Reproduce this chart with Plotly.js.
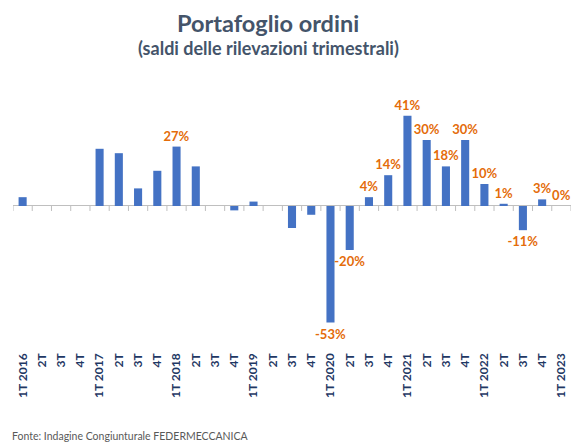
<!DOCTYPE html>
<html>
<head>
<meta charset="utf-8">
<script src="https://cdn.plot.ly/plotly-3.0.1.min.js"></script>
<style>html,body{margin:0;padding:0;background:#fff;}#chart{width:571px;height:442px;}</style>
</head>
<body>
<div id="chart"></div>
<script>
const categories = ["1T 2016","2T","3T","4T","1T 2017","2T","3T","4T","1T 2018","2T","3T","4T","1T 2019","2T","3T","4T","1T 2020","2T","3T","4T","1T 2021","2T","3T","4T","1T 2022","2T","3T","4T","1T 2023"];
const values = [4,0,0,0,26,24,8,16,27,18,0,-2,2,0,-10,-4,-53,-20,4,14,41,30,18,30,10,1,-11,3,0];
const labels = ["","","","","","","","","27%","","","","","","","","-53%","-20%","4%","14%","41%","30%","18%","30%","10%","1%","-11%","3%","0%"];
const titleText = "Portafoglio ordini";
const subtitleText = "(saldi delle rilevazioni trimestrali)";
const sourceText = "Fonte: Indagine Congiunturale FEDERMECCANICA";

const xIdx = categories.map((c, i) => i);
const yMin = -63.2, yMax = 50;
const FONT = 'Lato, "Open Sans", sans-serif';

const trace = {
  type: 'bar',
  x: xIdx,
  y: values,
  text: labels,
  textposition: 'outside',
  constraintext: 'none',
  cliponaxis: false,
  textfont: {family: FONT, size: 13, color: '#E46C0A', weight: 'bold'},
  marker: {color: '#4472C4', line: {width: 0}},
  hoverinfo: 'none'
};

// category-boundary tick marks on the zero line
const tickShapes = categories.concat(['']).map((c, i) => ({
  type: 'line', xref: 'x', yref: 'y', ysizemode: 'pixel', yanchor: 0,
  x0: i - 0.5, x1: i - 0.5, y0: -5, y1: 0,
  line: {color: '#BFBFBF', width: 1}, layer: 'below'
}));

const layout = {
  width: 571, height: 442,
  margin: {l: 13, r: 0, t: 96, b: 97},
  paper_bgcolor: '#ffffff', plot_bgcolor: '#ffffff',
  showlegend: false,
  bargap: 0.58,
  font: {family: FONT},
  xaxis: {
    range: [-0.5, categories.length - 0.5],
    tickmode: 'array', tickvals: xIdx, ticktext: categories,
    tickangle: -90,
    ticklabelstandoff: 5,
    tickfont: {size: 12, color: '#1F3864', family: FONT, weight: 'bold'},
    showgrid: false, zeroline: false, showline: false, ticks: '',
    fixedrange: true
  },
  yaxis: {
    range: [yMin, yMax], showticklabels: false, ticks: '', showgrid: false,
    zeroline: true, zerolinecolor: '#BFBFBF', zerolinewidth: 1, showline: false
  },
  shapes: tickShapes,
  annotations: [
    {text: '<b>' + titleText + '</b>', xref: 'paper', yref: 'paper', x: 0.457, y: (345 - 23) / 249,
     xanchor: 'center', yanchor: 'middle', showarrow: false,
     font: {size: 23.5, color: '#44546A', family: FONT}},
    {text: '<b>' + subtitleText + '</b>', xref: 'paper', yref: 'paper', x: 0.457, y: (345 - 48) / 249,
     xanchor: 'center', yanchor: 'middle', showarrow: false,
     font: {size: 18, color: '#44546A', family: FONT}},
    {text: sourceText, xref: 'paper', yref: 'paper', x: -0.005, y: (345 - 436) / 249,
     xanchor: 'left', yanchor: 'middle', showarrow: false,
     font: {size: 10.5, color: '#595959', family: FONT}}
  ]
};

Plotly.newPlot('chart', [trace], layout, {displayModeBar: false, staticPlot: true});
</script>
</body>
</html>
